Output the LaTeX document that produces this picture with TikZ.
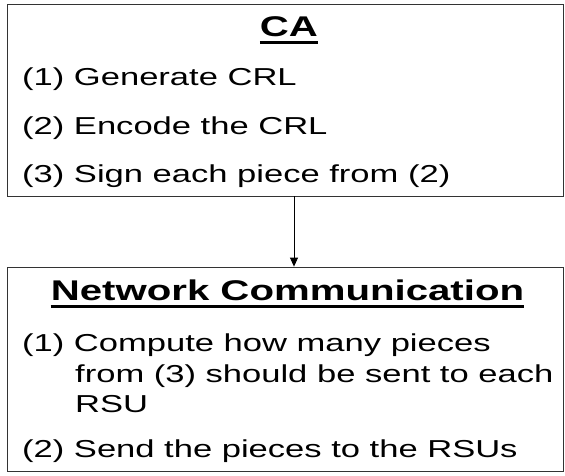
\documentclass[tikz,border=0pt]{standalone}
\usepackage{fontspec}
\setmainfont[FakeStretch=1.41]{Liberation Sans}
\usetikzlibrary{arrows.meta}

\tikzset{
  box/.style={draw=black!80, line width=0.8pt, minimum width=556pt, inner sep=0pt},
  item/.style={anchor=base west, inner sep=0pt, font=\fontsize{24.5}{29}\selectfont},
  title/.style={anchor=base, inner sep=0pt, font=\fontsize{28.5}{32}\selectfont\bfseries},
  uline/.style={line width=2.5pt},
  flow/.style={-{Triangle[width=8pt,length=9pt]}, line width=0.8pt}
}

\begin{document}
\begin{tikzpicture}[x=1pt, y=-1pt]
	\useasboundingbox (0,0) rectangle (565,475);
	% CA box
	\node[box, minimum height=192pt] (ca) at (285,100) {};
	\node[title] (catitle) at (289,36) {CA};
	\draw[uline] ([yshift=-6.5pt]catitle.base west) -- ([yshift=-6.5pt]catitle.base east);
	\node[item] (gen) at (22,85) {(1) Generate CRL};
	\node[item] (enc) at (22,134) {(2) Encode the CRL};
	\node[item] (sign) at (22,182) {(3) Sign each piece from (2)};
	% network box
	\node[box, minimum height=204pt] (net) at (285,369) {};
	\node[title] (nettitle) at (287.5,300) {Network Communication};
	\draw[uline] ([yshift=-6.5pt]nettitle.base west) -- ([yshift=-6.5pt]nettitle.base east);
	\node[item] (comp) at (22,351) {(1) Compute how many pieces};
	\node[item] (compb) at (75,382) {from (3) should be sent to each};
	\node[item] (compc) at (75,412) {RSU};
	\node[item] (send) at (22,457) {(2) Send the pieces to the RSUs};
	% arrow
	\draw[flow] ([xshift=9pt]ca.south) -- ([xshift=9pt]net.north);
\end{tikzpicture}
\end{document}
